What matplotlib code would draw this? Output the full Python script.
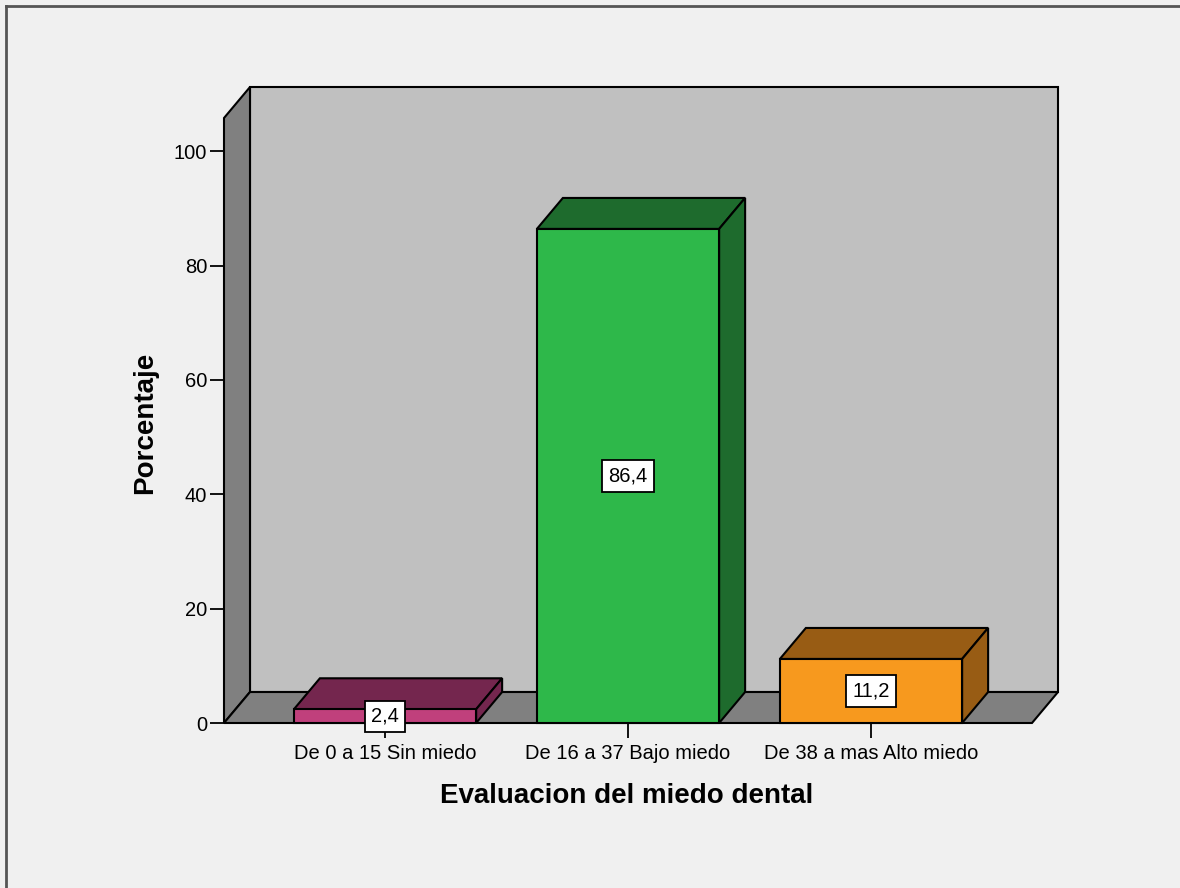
import numpy as np
import matplotlib.pyplot as plt
from matplotlib.patches import Polygon, Rectangle
from matplotlib.lines import Line2D

plt.rcParams['font.family'] = ['Liberation Sans', 'DejaVu Sans']

categories = ["De 0 a 15 Sin miedo", "De 16 a 37 Bajo miedo", "De 38 a mas Alto miedo"]
values = [2.4, 86.4, 11.2]
labels = ["2,4", "86,4", "11,2"]
front_colors = ["#C0407C", "#2EB84A", "#F7991E"]
dark_colors = ["#74264E", "#1E6B2D", "#985C14"]
yticks = [0, 20, 40, 60, 80, 100]

fig = plt.figure(figsize=(11.8, 8.88), dpi=100)
fig.patch.set_facecolor("#F0F0F0")

# axes placed in pixel terms of the reference
W, H = 1180, 888
ax = fig.add_axes([224 / W, (H - 723) / H, 808 / W, 605 / H])
ax.set_facecolor("none")

x0, x1 = -0.6626, 2.6626
ytop = 105.8
ax.set_xlim(x0, x1)
ax.set_ylim(0, ytop)

# depth offset of the fake 3d (in data units)
ddx = 26 / 243.0
ddy = 31 / 5.72
bw = 0.75
ec = "black"
lw = 1.5

# back wall, left wall, floor
ax.add_patch(Rectangle((x0 + ddx, ddy), x1 - x0, ytop, facecolor="#C0C0C0",
                       edgecolor=ec, lw=lw, clip_on=False, zorder=1))
ax.add_patch(Polygon([(x0, 0), (x0, ytop), (x0 + ddx, ytop + ddy), (x0 + ddx, ddy)],
                     facecolor="#808080", edgecolor=ec, lw=lw, clip_on=False, zorder=2))
ax.add_patch(Polygon([(x0, 0), (x1, 0), (x1 + ddx, ddy), (x0 + ddx, ddy)],
                     facecolor="#808080", edgecolor=ec, lw=lw, clip_on=False, zorder=2))

xs = np.arange(len(categories))
for i, (c, v) in enumerate(zip(xs, values)):
    l, r = c - bw / 2, c + bw / 2
    ax.add_patch(Polygon([(l, v), (r, v), (r + ddx, v + ddy), (l + ddx, v + ddy)],
                         facecolor=dark_colors[i], edgecolor=ec, lw=lw, clip_on=False, zorder=3))
    ax.add_patch(Polygon([(r, 0), (r + ddx, ddy), (r + ddx, v + ddy), (r, v)],
                         facecolor=dark_colors[i], edgecolor=ec, lw=lw, clip_on=False, zorder=3))
    ax.add_patch(Rectangle((l, 0), bw, v, facecolor=front_colors[i], edgecolor=ec,
                           lw=lw, clip_on=False, zorder=4))
    ax.text(c, v / 2, labels[i], ha="center", va="center", fontsize=14.5, zorder=6,
            bbox=dict(boxstyle="square,pad=0.3", facecolor="white", edgecolor="black", lw=1.3))

for s in ["top", "right", "bottom", "left"]:
    ax.spines[s].set_visible(False)

ax.set_yticks(yticks)
ax.set_yticklabels([str(t) for t in yticks])
ax.set_xticks(xs)
ax.set_xticklabels(categories)
ax.tick_params(axis="y", length=10, width=1.3, pad=2, labelsize=14.5)
ax.tick_params(axis="x", length=11, width=1.3, pad=4, labelsize=14.5)

fig.text(627 / W, 1 - 796 / H, "Evaluacion del miedo dental", ha="center", va="center",
         fontsize=20, fontweight="bold")
fig.text(145 / W, 1 - 423 / H, "Porcentaje", ha="center", va="center", rotation=90,
         fontsize=20, fontweight="bold")

# outer frame (only left and top edges visible in the crop)
fig.add_artist(Line2D([6 / W, 6 / W], [0, 1 - 6 / H], color="#555555", lw=2, transform=fig.transFigure))
fig.add_artist(Line2D([6 / W, 1], [1 - 6 / H, 1 - 6 / H], color="#555555", lw=2, transform=fig.transFigure))

fig.savefig("out.png", dpi=100, facecolor=fig.get_facecolor())
